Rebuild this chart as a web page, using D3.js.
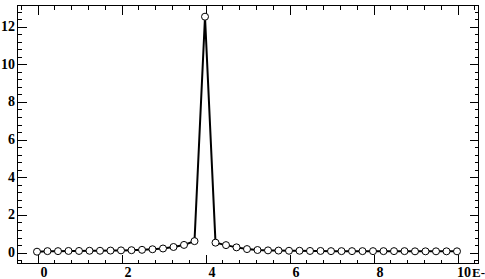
<!DOCTYPE html>
<html>
<head>
<meta charset="utf-8">
<script src="https://cdn.jsdelivr.net/npm/d3@7"></script>
<style>
  body { margin: 0; background: #fff; }
  svg { display: block; }
  .lbl { font-family: "Liberation Serif", "DejaVu Serif", serif; font-weight: bold; font-size: 14px; fill: #000; }
  .axis path, .axis line { stroke: #000; stroke-width: 1; shape-rendering: crispEdges; }
</style>
</head>
<body>
<div id="chart"></div>
<script>
var svgWidth = 485;
var svgHeight = 279;

// series
var xValues = [0, 0.25, 0.5, 0.75, 1, 1.25, 1.5, 1.75, 2, 2.25, 2.5, 2.75, 3, 3.25, 3.5, 3.75,
  4, 4.25, 4.5, 4.75, 5, 5.25, 5.5, 5.75, 6, 6.25, 6.5, 6.75, 7, 7.25, 7.5, 7.75,
  8, 8.25, 8.5, 8.75, 9, 9.25, 9.5, 9.75, 10];
var yValues = [0.02, 0.05, 0.05, 0.06, 0.06, 0.07, 0.07, 0.08, 0.09, 0.10, 0.12, 0.15, 0.19, 0.27, 0.38, 0.58,
  12.5, 0.50, 0.37, 0.25, 0.16, 0.11, 0.09, 0.08, 0.07, 0.07, 0.06, 0.06, 0.05, 0.05, 0.05, 0.05,
  0.05, 0.05, 0.05, 0.05, 0.04, 0.04, 0.04, 0.04, 0.04];

// tick labels
var xTickValues = [0, 2, 4, 6, 8, 10];
var xTickLabels = ["0", "2", "4", "6", "8", "10"];
var yTickValues = [0, 2, 4, 6, 8, 10, 12];
var yTickLabels = ["0", "2", "4", "6", "8", "10", "12"];

var frame = { left: 17, right: 478, top: 5, bottom: 263 };

var svg = d3.select("#chart")
  .append("svg")
  .attr("width", svgWidth)
  .attr("height", svgHeight);

var x = d3.scaleLinear().domain([-0.5, 10.5]).range([16, 478]);
var y = d3.scaleLinear().domain([-0.58, 13.12]).range([frame.bottom, frame.top]);

var xMinor = d3.range(-0.4, 10.41, 0.4);
var yMinor = d3.range(-0.4, 13.1, 0.4);

// frame box
svg.append("rect")
  .attr("x", frame.left + 0.5)
  .attr("y", frame.top + 0.5)
  .attr("width", frame.right - frame.left)
  .attr("height", frame.bottom - frame.top)
  .attr("fill", "none")
  .attr("stroke", "#000")
  .attr("shape-rendering", "crispEdges");

function tickAxis(axisFn, scale, values, size, transform) {
  svg.append("g")
    .attr("class", "axis")
    .attr("transform", transform)
    .call(axisFn(scale).tickValues(values).tickSize(size).tickFormat(""))
    .call(g => g.select(".domain").remove());
}

// inward pointing ticks on all four sides
tickAxis(d3.axisBottom, x, xTickValues, -9, `translate(0.5, ${frame.bottom + 0.5})`);
tickAxis(d3.axisBottom, x, xMinor, -4, `translate(0.5, ${frame.bottom + 0.5})`);
tickAxis(d3.axisTop, x, xTickValues, -9, `translate(0.5, ${frame.top + 0.5})`);
tickAxis(d3.axisTop, x, xMinor, -4, `translate(0.5, ${frame.top + 0.5})`);
tickAxis(d3.axisLeft, y, yTickValues, -9, `translate(${frame.left + 0.5}, 0.5)`);
tickAxis(d3.axisLeft, y, yMinor, -4, `translate(${frame.left + 0.5}, 0.5)`);
tickAxis(d3.axisRight, y, yTickValues, -9, `translate(${frame.right + 0.5}, 0.5)`);
tickAxis(d3.axisRight, y, yMinor, -4, `translate(${frame.right + 0.5}, 0.5)`);

// x tick labels (sit a bit right of their ticks)
svg.selectAll(".xlbl")
  .data(xTickValues)
  .enter()
  .append("text")
  .attr("class", "lbl")
  .attr("x", d => x(d) + 7)
  .attr("y", 277)
  .attr("text-anchor", "middle")
  .text((d, i) => xTickLabels[i]);

svg.append("text")
  .attr("class", "lbl")
  .attr("x", x(10) + 15)
  .attr("y", 277)
  .style("font-size", "13px")
  .text("E-");

// y tick labels
svg.selectAll(".ylbl")
  .data(yTickValues)
  .enter()
  .append("text")
  .attr("class", "lbl")
  .attr("x", 15)
  .attr("y", d => y(d) + 5)
  .attr("text-anchor", "end")
  .text((d, i) => yTickLabels[i]);

var points = xValues.map((d, i) => ({ x: d, y: yValues[i] }));

var line = d3.line()
  .x(d => x(d.x))
  .y(d => y(d.y));

svg.append("path")
  .datum(points)
  .attr("d", line)
  .attr("fill", "none")
  .attr("stroke", "#000")
  .attr("stroke-width", 2);

svg.selectAll("circle")
  .data(points)
  .enter()
  .append("circle")
  .attr("cx", d => x(d.x))
  .attr("cy", d => y(d.y))
  .attr("r", 3.5)
  .attr("fill", "#fff")
  .attr("stroke", "#000")
  .attr("stroke-width", 1);
</script>
</body>
</html>
